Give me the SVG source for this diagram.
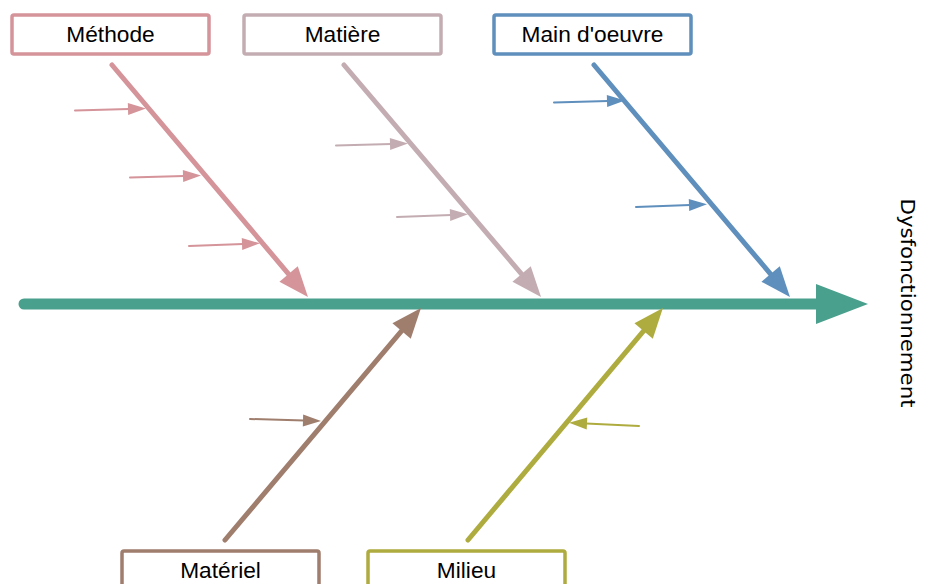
<svg xmlns="http://www.w3.org/2000/svg" width="932" height="584" viewBox="0 0 932 584">
<style>
.box{fill:#fff;stroke-width:3.5}
.lbl{font-family:"Liberation Sans",Arial,sans-serif;font-size:22.7px;fill:#000;text-anchor:middle}
.bone{fill:none;stroke-width:5;stroke-linecap:round}
.rib{fill:none;stroke-width:2;stroke-linecap:round}
</style>
<defs>
<marker id="hM" markerUnits="userSpaceOnUse" markerWidth="32" markerHeight="24" refX="2" refY="12" orient="auto" overflow="visible"><path d="M0,0 L30,12 L0,24 z" fill="#d4949a"/></marker>
<marker id="hT" markerUnits="userSpaceOnUse" markerWidth="32" markerHeight="24" refX="2" refY="12" orient="auto" overflow="visible"><path d="M0,0 L30,12 L0,24 z" fill="#c4adb2"/></marker>
<marker id="hO" markerUnits="userSpaceOnUse" markerWidth="32" markerHeight="24" refX="2" refY="12" orient="auto" overflow="visible"><path d="M0,0 L30,12 L0,24 z" fill="#5f8fbc"/></marker>
<marker id="hR" markerUnits="userSpaceOnUse" markerWidth="32" markerHeight="24" refX="2" refY="12" orient="auto" overflow="visible"><path d="M0,0 L30,12 L0,24 z" fill="#a07e6e"/></marker>
<marker id="hL" markerUnits="userSpaceOnUse" markerWidth="32" markerHeight="24" refX="2" refY="12" orient="auto" overflow="visible"><path d="M0,0 L30,12 L0,24 z" fill="#afac3f"/></marker>
<marker id="sM" markerUnits="userSpaceOnUse" markerWidth="20" markerHeight="12" refX="1" refY="6" orient="auto" overflow="visible"><path d="M0,0 L18,6 L0,12 z" fill="#d4949a"/></marker>
<marker id="sT" markerUnits="userSpaceOnUse" markerWidth="20" markerHeight="12" refX="1" refY="6" orient="auto" overflow="visible"><path d="M0,0 L18,6 L0,12 z" fill="#c4adb2"/></marker>
<marker id="sO" markerUnits="userSpaceOnUse" markerWidth="20" markerHeight="12" refX="1" refY="6" orient="auto" overflow="visible"><path d="M0,0 L18,6 L0,12 z" fill="#5f8fbc"/></marker>
<marker id="sR" markerUnits="userSpaceOnUse" markerWidth="20" markerHeight="12" refX="1" refY="6" orient="auto" overflow="visible"><path d="M0,0 L18,6 L0,12 z" fill="#a07e6e"/></marker>
<marker id="sL" markerUnits="userSpaceOnUse" markerWidth="20" markerHeight="12" refX="1" refY="6" orient="auto" overflow="visible"><path d="M0,0 L18,6 L0,12 z" fill="#afac3f"/></marker>
</defs>
<rect width="932" height="584" fill="#fff"/>
<g id="connectors">
<line x1="24" y1="304" x2="820" y2="304" stroke="#48a08d" stroke-width="11" stroke-linecap="round"/>
<path d="M816,284 L868,304 L816,324 z" fill="#48a08d"/>
<line class="bone" x1="112" y1="65" x2="289.9" y2="275.6" stroke="#d4949a" marker-end="url(#hM)"/>
<line class="bone" x1="344" y1="65" x2="522.9" y2="275.6" stroke="#c4adb2" marker-end="url(#hT)"/>
<line class="bone" x1="594" y1="65" x2="771.9" y2="275.6" stroke="#5f8fbc" marker-end="url(#hO)"/>
<line class="bone" x1="225" y1="540" x2="402.9" y2="329.4" stroke="#a07e6e" marker-end="url(#hR)"/>
<line class="bone" x1="468" y1="540" x2="644.9" y2="329.4" stroke="#afac3f" marker-end="url(#hL)"/>
<line class="rib" x1="75" y1="110.5" x2="129" y2="109" stroke="#d4949a" marker-end="url(#sM)"/>
<line class="rib" x1="130" y1="177.5" x2="184" y2="176" stroke="#d4949a" marker-end="url(#sM)"/>
<line class="rib" x1="189" y1="246" x2="243" y2="244" stroke="#d4949a" marker-end="url(#sM)"/>
<line class="rib" x1="336" y1="145.5" x2="391" y2="144" stroke="#c4adb2" marker-end="url(#sT)"/>
<line class="rib" x1="397" y1="217" x2="451" y2="215" stroke="#c4adb2" marker-end="url(#sT)"/>
<line class="rib" x1="554" y1="102.5" x2="608" y2="101" stroke="#5f8fbc" marker-end="url(#sO)"/>
<line class="rib" x1="636" y1="207" x2="690" y2="205" stroke="#5f8fbc" marker-end="url(#sO)"/>
<line class="rib" x1="250" y1="419" x2="304" y2="420.5" stroke="#a07e6e" marker-end="url(#sR)"/>
<line class="rib" x1="639" y1="426" x2="586" y2="423.5" stroke="#afac3f" marker-end="url(#sL)"/>
</g>
<g id="methode">
<rect class="box" x="12" y="15" width="197" height="39" rx="2" stroke="#d4949a"/>
<text class="lbl" x="110.5" y="42">Méthode</text>
</g>
<g id="matiere">
<rect class="box" x="244" y="15" width="197" height="39" rx="2" stroke="#c4adb2"/>
<text class="lbl" x="342.5" y="42">Matière</text>
</g>
<g id="main-oeuvre">
<rect class="box" x="494" y="15" width="197" height="39" rx="2" stroke="#5f8fbc"/>
<text class="lbl" x="592.5" y="42">Main d'oeuvre</text>
</g>
<g id="materiel">
<rect class="box" x="122" y="551" width="197" height="39" rx="2" stroke="#a07e6e"/>
<text class="lbl" x="220.5" y="578">Matériel</text>
</g>
<g id="milieu">
<rect class="box" x="368" y="551" width="197" height="39" rx="2" stroke="#afac3f"/>
<text class="lbl" x="466.5" y="578">Milieu</text>
</g>
<g id="dysfonctionnement">
<text transform="translate(901,303) rotate(90)" font-family="'DejaVu Sans',sans-serif" font-size="20" text-anchor="middle" textLength="209" lengthAdjust="spacingAndGlyphs" fill="#000">Dysfonctionnement</text>
</g>
</svg>
